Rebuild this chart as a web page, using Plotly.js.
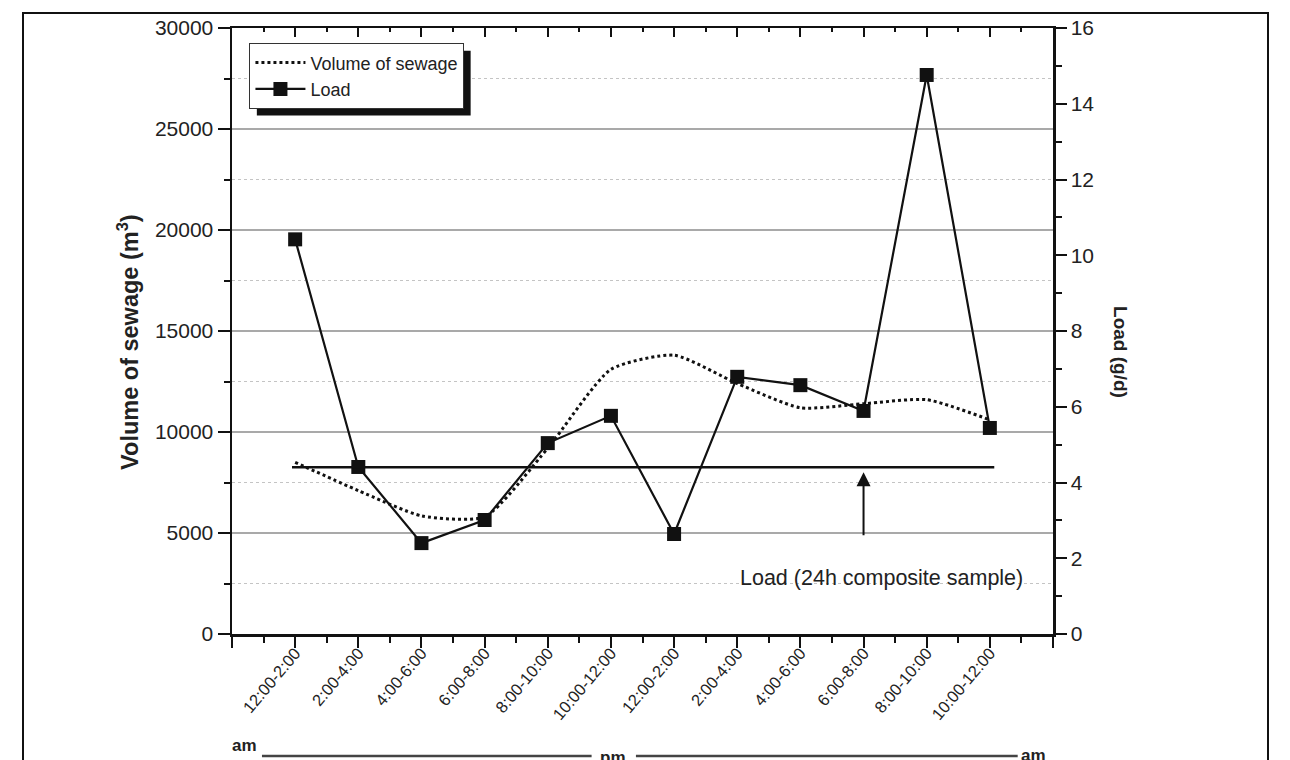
<!DOCTYPE html>
<html>
<head>
<meta charset="utf-8">
<script src="https://cdn.plot.ly/plotly-3.0.1.min.js"></script>
<style>
  html, body { margin: 0; padding: 0; background: #fff; }
  #wrap { position: relative; width: 1290px; height: 760px; overflow: hidden; }
  #chart { position: absolute; left: 0; top: 0; width: 1290px; height: 760px; }
  #frame { position: absolute; left: 22px; top: 12px; width: 1247px; height: 800px;
           border: 2px solid #111; pointer-events: none; box-sizing: border-box; }
</style>
</head>
<body>
<div id="wrap">
  <div id="chart"></div>
  <div id="frame"></div>
</div>
<script>
// ---- data ----
const categories = ['12:00-2:00','2:00-4:00','4:00-6:00','6:00-8:00','8:00-10:00','10:00-12:00',
                    '12:00-2:00','2:00-4:00','4:00-6:00','6:00-8:00','8:00-10:00','10:00-12:00'];
const volumeOfSewage = [8500, 7100, 5850, 5800, 9200, 13100, 13800, 12400, 11200, 11400, 11600, 10600];
const loadGd = [10.42, 4.41, 2.40, 3.01, 5.04, 5.76, 2.64, 6.79, 6.57, 5.89, 14.76, 5.44];
const compositeLoad = 4.4;
const compositeLabel = 'Load (24h composite sample)';
const periodLabels = ['am', 'pm', 'am'];

// ---- derived helpers ----
const xIdx = categories.map((_, i) => i);
const n = categories.length;
const majorVals = [];
for (let i = -1; i <= n; i++) majorVals.push(i);
const majorText = majorVals.map(v => (v >= 0 && v < n) ? categories[v] : '');
const minorVals = [];
for (let i = -1; i < n; i++) minorVals.push(i + 0.5);

const FONT = 'Liberation Sans, Arial, Helvetica, sans-serif';
const TXT = '#222';

const traces = [
  {
    x: xIdx, y: volumeOfSewage, name: 'Volume of sewage', type: 'scatter', mode: 'lines',
    line: { color: '#111', width: 3, dash: 'dot', shape: 'spline', smoothing: 0.6 },
    xaxis: 'x', yaxis: 'y'
  },
  {
    x: xIdx, y: loadGd, name: 'Load', type: 'scatter', mode: 'lines+markers',
    line: { color: '#111', width: 2.2 },
    marker: { symbol: 'square', size: 14, color: '#111' },
    xaxis: 'x', yaxis: 'y2'
  },
  {
    x: [0], y: [0], xaxis: 'x2', yaxis: 'y', mode: 'markers', marker: { opacity: 0 },
    showlegend: false, hoverinfo: 'skip'
  },
  {
    x: [0], y: [0], xaxis: 'x3', yaxis: 'y', mode: 'markers', marker: { opacity: 0 },
    showlegend: false, hoverinfo: 'skip'
  }
];

const axisLine = { showline: true, linecolor: '#111', linewidth: 2.5 };

const layout = {
  width: 1290, height: 760,
  margin: { l: 232, r: 237, t: 28, b: 126 },
  paper_bgcolor: '#fff', plot_bgcolor: '#fff',
  font: { family: FONT, color: TXT },
  showlegend: true,
  legend: {
    x: 0.021, y: 0.975, xanchor: 'left', yanchor: 'top',
    bgcolor: '#fff', bordercolor: '#333', borderwidth: 1.2,
    font: { family: FONT, size: 18, color: TXT },
    itemwidth: 50, tracegroupgap: 0
  },
  // axis carrying the category labels only (invisible spacer ticks set the label gap)
  xaxis: {
    anchor: 'free', position: 0,
    range: [-1, n], tickmode: 'array', tickvals: majorVals, ticktext: majorText,
    ticks: 'outside', ticklen: 2, tickcolor: 'rgba(0,0,0,0)', tickangle: -50, showline: false,
    tickfont: { family: FONT, size: 16.5, color: TXT },
    showgrid: false, zeroline: false
  },
  xaxis2: Object.assign({}, axisLine, {
    overlaying: 'x', side: 'top', anchor: 'y',
    range: [-1, n], tickmode: 'array', tickvals: majorVals, showticklabels: false,
    ticks: 'inside', ticklen: 9, tickwidth: 2, tickcolor: '#111',
    minor: { tickmode: 'array', tickvals: minorVals, ticks: 'inside', ticklen: 4, tickwidth: 2, tickcolor: '#111', showgrid: false },
    showgrid: false, zeroline: false
  }),
  xaxis3: Object.assign({}, axisLine, {
    overlaying: 'x', side: 'bottom', anchor: 'y',
    range: [-1, n], tickmode: 'array', tickvals: majorVals, showticklabels: false,
    ticks: 'outside', ticklen: 11, tickwidth: 2, tickcolor: '#111',
    minor: { tickmode: 'array', tickvals: minorVals, ticks: 'outside', ticklen: 6, tickwidth: 2, tickcolor: '#111', showgrid: false },
    showgrid: false, zeroline: false
  }),
  yaxis: Object.assign({}, axisLine, {
    anchor: 'x3',
    range: [0, 30000], tick0: 0, dtick: 5000, tickformat: 'd',
    ticks: 'outside', ticklen: 12, tickwidth: 2, tickcolor: '#111',
    tickfont: { family: FONT, size: 21, color: TXT },
    showgrid: true, gridcolor: '#a9a9a9', gridwidth: 2,
    minor: { tick0: 0, dtick: 2500, ticks: 'outside', ticklen: 6, tickwidth: 2, tickcolor: '#111',
             showgrid: true, gridcolor: '#c4c4c4', gridwidth: 1.5, griddash: 'dot' },
    zeroline: false
  }),
  yaxis2: Object.assign({}, axisLine, {
    overlaying: 'y', side: 'right', anchor: 'x3',
    range: [0, 16], tick0: 0, dtick: 2,
    ticks: 'outside', ticklen: 11, tickwidth: 2, tickcolor: '#111',
    tickfont: { family: FONT, size: 21, color: TXT },
    minor: { tick0: 0, dtick: 1, ticks: 'outside', ticklen: 6, tickwidth: 2, tickcolor: '#111', showgrid: false },
    showgrid: false, zeroline: false
  }),
  shapes: [
    { type: 'line', xref: 'x', yref: 'y2', x0: -0.05, x1: n - 0.93, y0: compositeLoad, y1: compositeLoad,
      line: { color: '#111', width: 2.5 } },
    { type: 'line', xref: 'paper', yref: 'paper', x0: 0.0365, x1: 0.438, y0: -0.2013, y1: -0.2013,
      line: { color: '#444', width: 2.5 } },
    { type: 'line', xref: 'paper', yref: 'paper', x0: 0.492, x1: 0.957, y0: -0.2013, y1: -0.2013,
      line: { color: '#444', width: 2.5 } }
  ],
  annotations: [
    { x: 9, y: 4.27, xref: 'x', yref: 'y2', ax: 9, ay: 2.57, axref: 'x', ayref: 'y2',
      showarrow: true, arrowhead: 2, arrowsize: 1.4, arrowwidth: 2, arrowcolor: '#111', text: '' },
    { x: 0.7917, y: 0.0924, xref: 'paper', yref: 'paper', text: compositeLabel, showarrow: false,
      font: { family: FONT, size: 21.5, color: TXT }, xanchor: 'center', yanchor: 'middle' },
    { x: -0.1267, y: 0.482, xref: 'paper', yref: 'paper', text: '<b>Volume of sewage (m<sup>3</sup>)</b>',
      showarrow: false, textangle: -90, font: { family: FONT, size: 23.5, color: TXT },
      xanchor: 'center', yanchor: 'middle' },
    { x: 1.0828, y: 0.4653, xref: 'paper', yref: 'paper', text: '<b>Load (g/d)</b>',
      showarrow: false, textangle: 90, font: { family: FONT, size: 19, color: TXT },
      xanchor: 'center', yanchor: 'middle' },
    { x: 0.0158, y: -0.1848, xref: 'paper', yref: 'paper', text: '<b>' + periodLabels[0] + '</b>',
      showarrow: false, font: { family: FONT, size: 17, color: TXT }, xanchor: 'center', yanchor: 'middle' },
    { x: 0.4646, y: -0.2035, xref: 'paper', yref: 'paper', text: '<b>' + periodLabels[1] + '</b>',
      showarrow: false, font: { family: FONT, size: 17, color: TXT }, xanchor: 'center', yanchor: 'middle' },
    { x: 0.9757, y: -0.2013, xref: 'paper', yref: 'paper', text: '<b>' + periodLabels[2] + '</b>',
      showarrow: false, font: { family: FONT, size: 17, color: TXT }, xanchor: 'center', yanchor: 'middle' }
  ]
};

const gd = document.getElementById('chart');
Plotly.newPlot(gd, traces, layout, { staticPlot: true, displayModeBar: false }).then(() => {
  const bg = gd.querySelector('.legend rect.bg');
  if (!bg) return;
  const r = bg.getBoundingClientRect();
  const g = gd.getBoundingClientRect();
  const L = 232, T = 28, W = 821, H = 606, off = 7;
  const toX = px => (px - L) / W;
  const toY = py => (T + H - py) / H;
  const left = r.left - g.left + off, right = r.right - g.left + off;
  const top = r.top - g.top + off, bottom = r.bottom - g.top + off;
  const shapes = layout.shapes.concat([{
    type: 'rect', xref: 'paper', yref: 'paper', layer: 'above',
    x0: toX(left), x1: toX(right), y0: toY(bottom), y1: toY(top),
    fillcolor: '#111', line: { width: 0 }
  }]);
  Plotly.relayout(gd, { shapes: shapes });
});
</script>
</body>
</html>
